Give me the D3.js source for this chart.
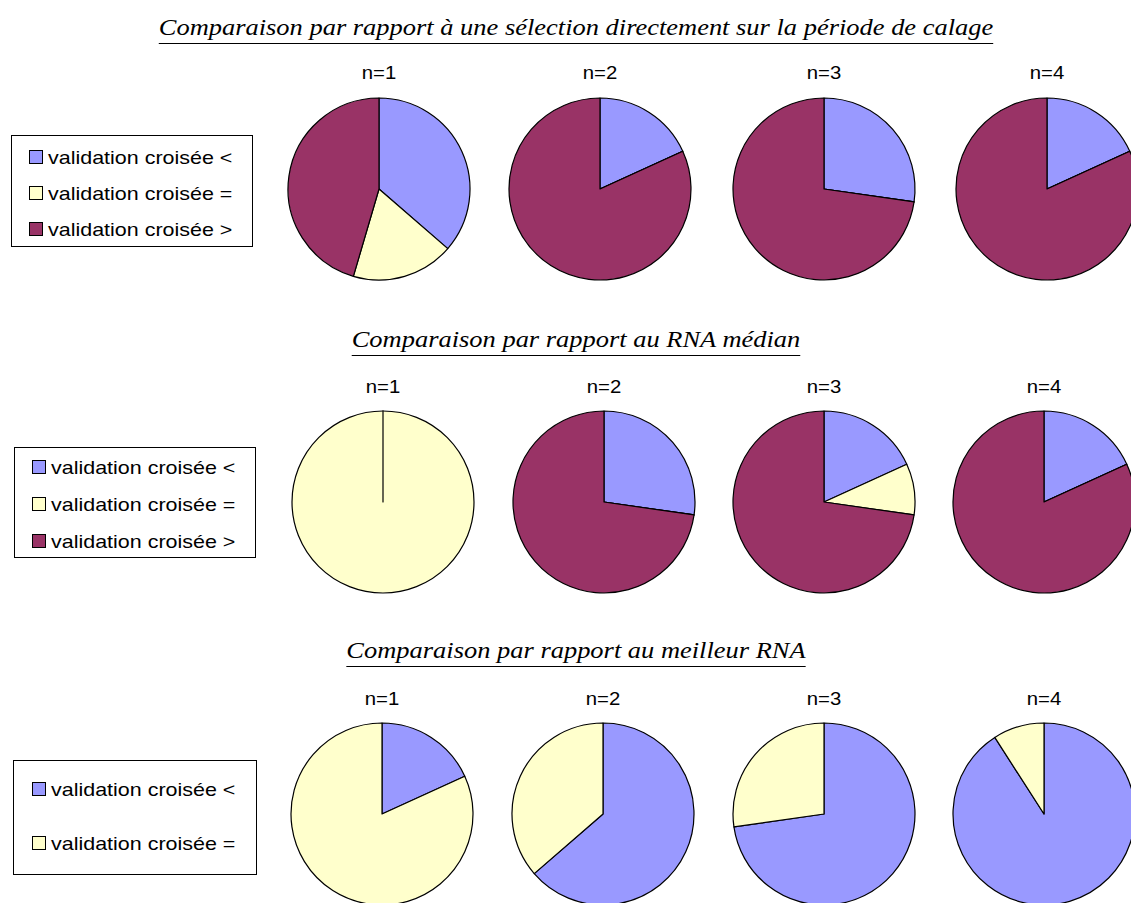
<!DOCTYPE html>
<html>
<head>
<meta charset="utf-8">
<script src="https://cdnjs.cloudflare.com/ajax/libs/d3/7.8.5/d3.min.js"></script>
<style>
  html, body { margin: 0; padding: 0; background: #fff; overflow: hidden; }
  svg { display: block; }
  .title { font-family: "Liberation Serif", "Times New Roman", Times, "Nimbus Roman", serif; font-style: italic; }
  .sans { font-family: "Liberation Sans", Arial, Helvetica, sans-serif; }
</style>
</head>
<body>
<div id="chart"></div>
<script>
// Données (nombre de cas sur 11)
const panels = ['n=1', 'n=2', 'n=3', 'n=4'];
const categories = ['validation croisée <', 'validation croisée =', 'validation croisée >'];
const colors = ['#9999ff', '#ffffcc', '#993366'];

const titles = [
    'Comparaison par rapport à une sélection directement sur la période de calage',
    'Comparaison par rapport au RNA médian',
    'Comparaison par rapport au meilleur RNA'
];

// période de calage
const calageLess = [4, 2, 3, 2];
const calageEqual = [2, 0, 0, 0];
const calageGreater = [5, 9, 8, 9];

// RNA médian
const medianLess = [0, 3, 2, 2];
const medianEqual = [11, 0, 1, 0];
const medianGreater = [0, 8, 8, 9];

// meilleur RNA (pas de cas ">")
const bestLess = [2, 7, 8, 10];
const bestEqual = [9, 4, 3, 1];

const rows = [
    { title: titles[0], series: [calageLess, calageEqual, calageGreater] },
    { title: titles[1], series: [medianLess, medianEqual, medianGreater] },
    { title: titles[2], series: [bestLess, bestEqual] }
];

// mise en page
const width = 1131, height = 903;
const radius = 91;
const TEXT_SX = 1.13;      // texte sans-serif un peu étiré horizontalement
const TITLE_WIDTH = 835;   // largeur du premier titre
const TITLE_CX = 576;
const TITLE_SIZE = 23;
const layout = [
    { titleY: 35, lineY: 43, labelY: 79, cy: 189, cxs: [379, 600, 824, 1047],
      legend: { x: 11, y: 135, w: 241, h: 111, swX: 29, txX: 48, items: [157, 193, 229] } },
    { titleY: 347, lineY: 355, labelY: 393, cy: 502, cxs: [383, 604, 824, 1044],
      legend: { x: 14, y: 447, w: 241, h: 110, swX: 32, txX: 51, items: [467, 504, 541] } },
    { titleY: 658, lineY: 666, labelY: 705, cy: 814, cxs: [382, 603, 824, 1044],
      legend: { x: 13, y: 760, w: 243, h: 114, swX: 32, txX: 51, items: [789, 843] } }
];

const svg = d3.select('#chart')
    .append('svg')
    .attr('width', width)
    .attr('height', height)
    .attr('viewBox', [0, 0, width, height]);

svg.append('rect').attr('width', width).attr('height', height).attr('fill', '#fff');

const pie = d3.pie().sort(null).value(d => d.value);
const arc = d3.arc().innerRadius(0).outerRadius(radius);

// texte étiré horizontalement
function stretchedText(g, x, y, str, anchor, sx) {
    return g.append('text')
        .attr('transform', `translate(${x},${y}) scale(${sx || TEXT_SX},1)`)
        .attr('text-anchor', anchor || 'start')
        .text(str);
}

// échelle horizontale des titres, calée sur la largeur du premier
const probe = svg.append('text').attr('class', 'title').attr('font-size', TITLE_SIZE).text(titles[0]);
const titleSX = TITLE_WIDTH / probe.node().getComputedTextLength();
probe.remove();

rows.forEach((row, ri) => {
    const lay = layout[ri];
    const g = svg.append('g').attr('class', 'row');

    // titre souligné
    const title = stretchedText(g, TITLE_CX, lay.titleY, row.title, 'middle', titleSX)
        .attr('class', 'title')
        .attr('font-size', TITLE_SIZE)
        .attr('fill', '#000');
    const tw = title.node().getComputedTextLength() * titleSX;
    g.append('line')
        .attr('x1', TITLE_CX - tw / 2)
        .attr('x2', TITLE_CX + tw / 2)
        .attr('y1', lay.lineY + 0.5)
        .attr('y2', lay.lineY + 0.5)
        .attr('stroke', '#000')
        .attr('stroke-width', 1);

    // camemberts
    panels.forEach((p, pi) => {
        const cx = lay.cxs[pi];
        stretchedText(g, cx, lay.labelY, p, 'middle')
            .attr('class', 'sans')
            .attr('font-size', 18)
            .attr('fill', '#000');

        const values = row.series.map((s, si) => ({ key: categories[si], value: s[pi], i: si }));
        const pg = g.append('g').attr('transform', `translate(${cx},${lay.cy})`);
        pg.selectAll('path')
            .data(pie(values))
            .join('path')
            .attr('d', arc)
            .attr('fill', d => colors[d.data.i])
            .attr('stroke', '#000')
            .attr('stroke-width', 1.2)
            .attr('stroke-linejoin', 'round');
    });

    // légende
    const L = lay.legend;
    const lg = g.append('g').attr('class', 'legend');
    lg.append('rect')
        .attr('x', L.x + 0.5).attr('y', L.y + 0.5)
        .attr('width', L.w).attr('height', L.h)
        .attr('fill', '#fff')
        .attr('stroke', '#000')
        .attr('stroke-width', 1);
    row.series.forEach((s, si) => {
        const yc = L.items[si];
        lg.append('rect')
            .attr('x', L.swX + 0.5).attr('y', yc - 6.5)
            .attr('width', 13).attr('height', 13)
            .attr('fill', colors[si])
            .attr('stroke', '#000')
            .attr('stroke-width', 1);
        stretchedText(lg, L.txX, yc + 7, categories[si])
            .attr('class', 'sans')
            .attr('font-size', 19)
            .attr('fill', '#000');
    });
});
</script>
</body>
</html>
